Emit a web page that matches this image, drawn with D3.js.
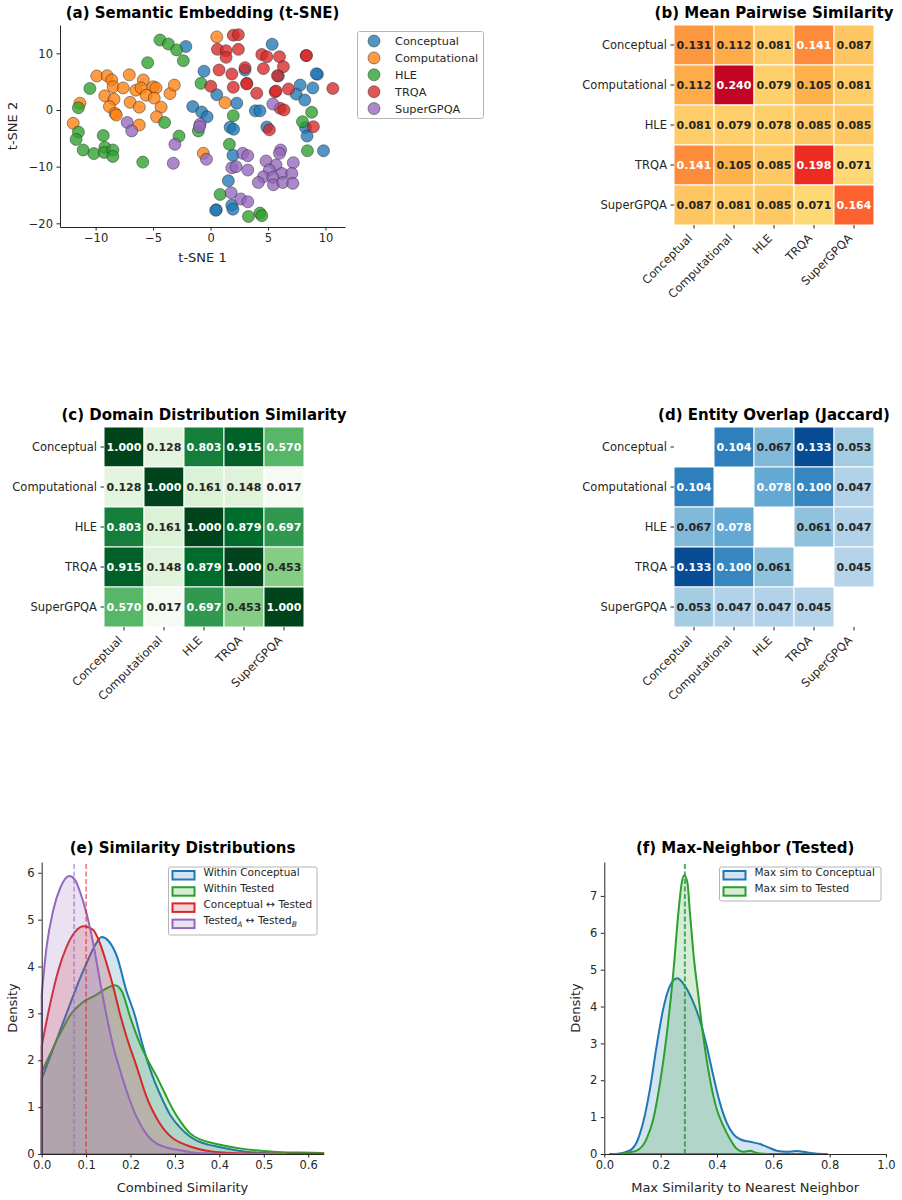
<!DOCTYPE html>
<html>
<head>
<meta charset="utf-8">
<title>Benchmark similarity analysis</title>
<style>
  body { margin: 0; background: #fff; }
  svg { font-family: "DejaVu Sans", sans-serif; }
</style>
</head>
<body>
<svg id="svg" width="902" height="1200"></svg>
<script src="https://d3js.org/d3.v7.min.js"></script>
<script>
  const groups = ["Conceptual", "Computational", "HLE", "TRQA", "SuperGPQA"]
  const groupColors = ["#1f77b4", "#ff7f0e", "#2ca02c", "#d62728", "#9467bd"]

  // t-SNE coordinates, one list per group
  const tsneConceptual = [[5.36,11.6],[-2.15,11.2],[-0.57,6.85],[3.0,7.05],[5.9,6.0],[9.3,6.3],[9.2,6.4],[7.8,4.4],[8.9,3.9],[7.45,2.8],[8.2,1.75],[0.54,2.7],[2.28,1.2],[-1.55,0.6],[-0.77,-0.35],[-0.3,-1.2],[3.9,-0.15],[4.3,-0.15],[1.7,-3.05],[2.0,-3.4],[4.9,-3.0],[8.26,-3.1],[8.4,-4.6],[9.83,-7.2],[1.95,-8.0],[1.55,-12.5],[1.85,-16.8],[1.95,-17.5],[0.5,-17.6],[0.45,-17.7]]
  const tsneComputational = [[0.54,12.9],[-9.9,6.0],[-9.0,6.05],[-8.6,5.3],[-8.47,4.1],[-7.6,3.9],[-7.07,6.2],[-5.85,5.3],[-6.5,3.5],[-6.05,3.9],[-4.98,4.1],[-4.75,3.9],[-5.6,2.6],[-4.9,2.1],[-3.53,2.9],[-3.15,4.4],[-9.2,2.5],[-8.4,1.9],[-7.0,1.35],[-6.2,0.5],[-8.8,0.6],[-8.3,-0.6],[-8.2,-0.9],[-4.3,0.5],[-4.7,-1.2],[-11.37,1.2],[-11.95,-2.35],[-6.2,-2.65],[1.26,1.3],[-0.63,-7.65]]
  const tsneHLE = [[-4.4,12.35],[-3.67,11.65],[-2.95,10.6],[-2.37,8.7],[-5.47,8.35],[-10.5,3.8],[-11.5,0.4],[-0.83,4.7],[-4.0,-2.2],[-11.5,-3.9],[-11.7,-5.2],[-11.08,-7.06],[-10.15,-7.7],[-9.34,-4.5],[-9.2,-6.6],[-9.25,-7.5],[-8.5,-7.06],[-8.5,-8.2],[-5.9,-9.2],[-2.74,-4.6],[-1.06,-3.7],[1.98,-1.0],[8.8,-0.4],[8.0,-2.06],[1.64,-6.05],[8.43,-7.2],[0.83,-14.9],[3.3,-18.8],[4.3,-18.2],[4.46,-18.65]]
  const tsneTRQA = [[1.98,13.2],[2.42,13.3],[0.6,10.7],[1.35,10.45],[1.35,9.3],[2.42,10.7],[0.74,7.06],[1.85,6.35],[3.0,7.47],[0.02,4.2],[1.98,4.0],[3.15,4.7],[3.15,4.6],[4.02,2.95],[4.46,9.8],[4.9,9.4],[4.6,7.3],[6.0,9.4],[6.34,7.65],[5.82,6.05],[5.62,3.2],[5.7,3.35],[6.78,3.7],[8.32,9.6],[8.35,9.6],[10.64,3.8],[6.05,0.3],[6.4,0.0],[5.12,-3.5],[8.95,-2.95]]
  const tsneSuperGPQA = [[5.42,1.06],[-7.25,-2.2],[-6.86,-3.7],[-0.91,-2.5],[-0.97,-2.95],[-3.1,-6.06],[-3.24,-9.4],[-0.36,-8.7],[2.8,-7.65],[3.24,-8.06],[6.1,-7.06],[6.0,-7.65],[1.85,-10.2],[2.22,-10.0],[3.24,-10.6],[4.83,-9.0],[5.7,-9.7],[7.2,-9.3],[5.12,-10.6],[6.2,-11.2],[7.07,-11.2],[4.6,-11.8],[5.42,-11.9],[4.16,-12.8],[5.47,-13.2],[6.29,-12.8],[7.16,-12.95],[1.79,-14.6],[2.63,-15.7],[3.24,-16.2]]
  const tsnePoints = [tsneConceptual, tsneComputational, tsneHLE, tsneTRQA, tsneSuperGPQA]

  // heatmap values
  const meanPairwise = [
    [0.131, 0.112, 0.081, 0.141, 0.087],
    [0.112, 0.240, 0.079, 0.105, 0.081],
    [0.081, 0.079, 0.078, 0.085, 0.085],
    [0.141, 0.105, 0.085, 0.198, 0.071],
    [0.087, 0.081, 0.085, 0.071, 0.164]
  ]
  const domainSimilarity = [
    [1.000, 0.128, 0.803, 0.915, 0.570],
    [0.128, 1.000, 0.161, 0.148, 0.017],
    [0.803, 0.161, 1.000, 0.879, 0.697],
    [0.915, 0.148, 0.879, 1.000, 0.453],
    [0.570, 0.017, 0.697, 0.453, 1.000]
  ]
  const entityJaccard = [
    [null, 0.104, 0.067, 0.133, 0.053],
    [0.104, null, 0.078, 0.100, 0.047],
    [0.067, 0.078, null, 0.061, 0.047],
    [0.133, 0.100, 0.061, null, 0.045],
    [0.053, 0.047, 0.047, 0.045, null]
  ]

  // density curves, [similarity, density]
  const kdeWithinConceptual = [[0,1.6],[0.02,2.1],[0.04,2.6],[0.06,3.1],[0.08,3.6],[0.1,4.05],[0.12,4.45],[0.135,4.63],[0.15,4.55],[0.17,4.2],[0.19,3.5],[0.21,2.95],[0.225,2.4],[0.25,1.65],[0.27,1.2],[0.29,0.82],[0.31,0.58],[0.33,0.4],[0.35,0.28],[0.375,0.2],[0.4,0.15],[0.43,0.09],[0.46,0.05],[0.5,0.02],[0.55,0.0]]
  const kdeWithinTested = [[0,1.75],[0.02,2.15],[0.034,2.43],[0.05,2.72],[0.064,2.96],[0.08,3.13],[0.094,3.25],[0.12,3.38],[0.14,3.5],[0.165,3.6],[0.18,3.48],[0.2,2.9],[0.221,2.36],[0.24,1.98],[0.259,1.65],[0.278,1.28],[0.296,0.94],[0.315,0.66],[0.334,0.44],[0.36,0.3],[0.386,0.23],[0.415,0.17],[0.446,0.12],[0.48,0.08],[0.521,0.05],[0.58,0.03],[0.634,0.02]]
  const kdeConceptualTested = [[0,2.3],[0.019,3.2],[0.0375,3.92],[0.056,4.42],[0.075,4.74],[0.095,4.86],[0.116,4.78],[0.131,4.5],[0.146,4.07],[0.161,3.57],[0.176,3.0],[0.191,2.5],[0.214,1.86],[0.236,1.22],[0.251,0.9],[0.266,0.65],[0.281,0.46],[0.296,0.33],[0.315,0.23],[0.334,0.16],[0.36,0.09],[0.386,0.05],[0.42,0.025],[0.46,0.012],[0.55,0.006],[0.634,0.004]]
  const kdeTestedPairs = [[0,3.4],[0.011,4.42],[0.026,5.2],[0.041,5.66],[0.062,5.93],[0.075,5.85],[0.086,5.6],[0.101,5.13],[0.116,4.49],[0.131,3.7],[0.146,2.95],[0.161,2.3],[0.176,1.8],[0.191,1.35],[0.214,0.78],[0.236,0.42],[0.259,0.22],[0.281,0.14],[0.31,0.08],[0.334,0.04],[0.37,0.015],[0.42,0.005],[0.55,0]]
  const meanConceptualTested = 0.100
  const meanTestedPairs = 0.073

  const kdeMaxToConceptual = [[0.02,0],[0.05,0.01],[0.079,0.06],[0.1,0.15],[0.115,0.32],[0.138,0.86],[0.162,1.76],[0.186,2.94],[0.209,3.93],[0.233,4.56],[0.259,4.77],[0.286,4.56],[0.316,4.11],[0.34,3.61],[0.363,2.94],[0.387,2.12],[0.41,1.4],[0.434,0.86],[0.458,0.54],[0.482,0.4],[0.517,0.33],[0.553,0.27],[0.582,0.18],[0.612,0.09],[0.647,0.06],[0.683,0.08],[0.718,0.045],[0.75,0.015],[0.79,0]]
  const kdeMaxToTested = [[0.03,0],[0.079,0.03],[0.115,0.09],[0.15,0.41],[0.174,0.95],[0.198,1.94],[0.221,3.2],[0.245,4.92],[0.263,6.55],[0.275,7.36],[0.284,7.56],[0.295,7.36],[0.304,6.55],[0.316,5.47],[0.334,4.29],[0.351,3.21],[0.375,2.03],[0.399,1.22],[0.422,0.77],[0.446,0.41],[0.47,0.14],[0.493,0.06],[0.517,0.09],[0.541,0.03],[0.58,0]]
  const meanMaxToConceptual = 0.287
  const meanMaxToTested = 0.285

  const svg = d3.select("#svg")
  const ink = "#262626"
  const tickFont = 11.5

  function styleAxis(g) {
    g.attr("font-family", null).attr("font-size", null)
    g.selectAll("text").attr("font-size", tickFont).attr("fill", ink)
    g.selectAll("line").attr("stroke", ink)
    g.select(".domain").attr("stroke", ink)
  }

  function title(x, y, txt) {
    svg.append("text").attr("x", x).attr("y", y).attr("text-anchor", "middle")
      .attr("font-size", 15).attr("font-weight", "bold").attr("fill", "#000").text(txt)
  }

  function axisLabel(x, y, txt, rotate) {
    const t = svg.append("text").attr("text-anchor", "middle").attr("font-size", 13).attr("fill", ink).text(txt)
    if (rotate) t.attr("transform", `translate(${x},${y}) rotate(-90)`)
    else t.attr("x", x).attr("y", y)
  }

  // ---------- (a) scatter ----------
  function drawScatter() {
    const left = 60, top = 25, w = 285, h = 202
    const x = d3.scaleLinear().domain([-13.1, 11.7]).range([left, left + w])
    const y = d3.scaleLinear().domain([-20.65, 15]).range([top + h, top])

    tsnePoints.forEach((pts, i) => {
      svg.append("g").selectAll("circle").data(pts).join("circle")
        .attr("cx", d => x(d[0])).attr("cy", d => y(d[1])).attr("r", 6)
        .attr("fill", groupColors[i]).attr("fill-opacity", 0.78)
        .attr("stroke", "#222").attr("stroke-opacity", 0.78).attr("stroke-width", 0.6)
    })

    svg.append("g").attr("transform", `translate(0,${top + h})`)
      .call(d3.axisBottom(x).tickValues([-10, -5, 0, 5, 10]).tickSize(3.5).tickPadding(3.5).tickSizeOuter(0))
      .call(styleAxis)
    svg.append("g").attr("transform", `translate(${left},0)`)
      .call(d3.axisLeft(y).tickValues([-20, -10, 0, 10]).tickSize(3.5).tickPadding(3.5).tickSizeOuter(0))
      .call(styleAxis)

    title(left + w / 2, 18, "(a) Semantic Embedding (t-SNE)")
    axisLabel(left + w / 2, 262, "t-SNE 1")
    axisLabel(17, top + h / 2, "t-SNE 2", true)

    const lg = svg.append("g")
    lg.append("rect").attr("x", 357.5).attr("y", 31.5).attr("width", 126).attr("height", 87).attr("rx", 2)
      .attr("fill", "#fff").attr("stroke", "#b5b5b5")
    groups.forEach((name, i) => {
      const cy = 41 + i * 16.9
      lg.append("circle").attr("cx", 374).attr("cy", cy).attr("r", 6)
        .attr("fill", groupColors[i]).attr("fill-opacity", 0.78)
        .attr("stroke", "#222").attr("stroke-opacity", 0.78).attr("stroke-width", 0.6)
      lg.append("text").attr("x", 395).attr("y", cy).attr("dy", "0.35em").attr("font-size", 11.3).attr("fill", ink).text(name)
    })
  }

  // ---------- heatmaps ----------
  function brewer(scheme, vmin, vmax) {
    const cols = scheme[9]
    return d3.scaleLinear().domain(cols.map((c, i) => vmin + (vmax - vmin) * i / 8)).range(cols).clamp(true)
  }
  function luminance(c) {
    const { r, g, b } = d3.rgb(c)
    const f = v => { v /= 255; return v <= 0.03928 ? v / 12.92 : Math.pow((v + 0.055) / 1.055, 2.4) }
    return 0.2126 * f(r) + 0.7152 * f(g) + 0.0722 * f(b)
  }

  function drawHeatmap(x0, y0, matrix, color, txt) {
    const size = 200
    const x = d3.scaleBand().domain(groups).range([x0, x0 + size])
    const y = d3.scaleBand().domain(groups).range([y0, y0 + size])
    const cells = []
    matrix.forEach((row, i) => row.forEach((v, j) => { if (v !== null) cells.push({ r: groups[i], c: groups[j], v }) }))

    const g = svg.append("g")
    g.selectAll("rect").data(cells).join("rect")
      .attr("x", d => x(d.c)).attr("y", d => y(d.r))
      .attr("width", x.bandwidth()).attr("height", y.bandwidth())
      .attr("fill", d => color(d.v)).attr("stroke", "#fff").attr("stroke-width", 1)
    g.selectAll("text").data(cells).join("text")
      .attr("x", d => x(d.c) + x.bandwidth() / 2).attr("y", d => y(d.r) + y.bandwidth() / 2)
      .attr("dy", "0.36em").attr("text-anchor", "middle")
      .attr("font-size", 11).attr("font-weight", "bold")
      .attr("fill", d => luminance(color(d.v)) > 0.408 ? ink : "#fff")
      .text(d => d.v.toFixed(3))

    svg.append("g").attr("transform", `translate(0,${y0 + size})`)
      .call(d3.axisBottom(x).tickSize(3.5).tickSizeOuter(0))
      .call(styleAxis)
      .call(a => a.select(".domain").remove())
      .call(a => a.selectAll("text").attr("x", 0).attr("y", 0).attr("dy", 0)
        .attr("text-anchor", "end").attr("transform", "translate(-1,14) rotate(-45)"))
    svg.append("g").attr("transform", `translate(${x0},0)`)
      .call(d3.axisLeft(y).tickSize(3.5).tickPadding(3.5).tickSizeOuter(0))
      .call(styleAxis)
      .call(a => a.select(".domain").remove())

    title(x0 + size / 2, y0 - 7, txt)
  }

  // ---------- density panels ----------
  function drawKde(opt) {
    const { left, top, w, h } = opt
    const x = d3.scaleLinear().domain([0, opt.xMax]).range([left, left + w])
    const y = d3.scaleLinear().domain([0, opt.yMax]).range([top + h, top])
    const area = d3.area().x(d => x(d[0])).y0(y(0)).y1(d => y(d[1])).curve(d3.curveMonotoneX)

    opt.series.forEach(s => {
      svg.append("path").attr("d", area(s.data))
        .attr("fill", s.color).attr("fill-opacity", 0.2)
        .attr("stroke", s.color).attr("stroke-width", 2).attr("stroke-linejoin", "round")
    })
    opt.means.forEach(m => {
      svg.append("line").attr("x1", x(m.v)).attr("x2", x(m.v)).attr("y1", y(0)).attr("y2", top)
        .attr("stroke", m.color).attr("stroke-opacity", 0.65).attr("stroke-width", 1.5).attr("stroke-dasharray", "5,2.5")
    })

    svg.append("g").attr("transform", `translate(0,${top + h})`)
      .call(d3.axisBottom(x).tickValues(opt.xTicks).tickFormat(d3.format(".1f")).tickSize(3.5).tickPadding(3.5).tickSizeOuter(0))
      .call(styleAxis)
    svg.append("g").attr("transform", `translate(${left},0)`)
      .call(d3.axisLeft(y).tickValues(opt.yTicks).tickFormat(d3.format("d")).tickSize(3.5).tickPadding(3.5).tickSizeOuter(0))
      .call(styleAxis)

    title(left + w / 2, 853, opt.title)
    axisLabel(left + w / 2, 1192, opt.xLabel)
    axisLabel(left - 24.5, top + h / 2, "Density", true)

    const lg = svg.append("g")
    const L = opt.legend
    lg.append("rect").attr("x", L.x).attr("y", L.y).attr("width", L.w).attr("height", L.h).attr("rx", 2)
      .attr("fill", "#fff").attr("fill-opacity", 0.85).attr("stroke", "#b5b5b5")
    opt.series.forEach((s, i) => {
      const cy = L.y + 8.5 + i * 16.2
      lg.append("rect").attr("x", L.x + 4).attr("y", cy - 4.5).attr("width", 22).attr("height", 8.5)
        .attr("fill", s.color).attr("fill-opacity", 0.2).attr("stroke", s.color).attr("stroke-width", 2)
      const t = lg.append("text").attr("x", L.x + 35).attr("y", cy).attr("dy", "0.36em")
        .attr("font-size", 10.5).attr("fill", ink)
      s.label.forEach(part => {
        if (part.sub) t.append("tspan").attr("font-size", 7.5).attr("font-style", "italic").attr("dy", 2.5).text(part.sub)
        else t.append("tspan").attr("dy", part.reset ? -2.5 : 0).text(part.text)
      })
    })
  }

  drawScatter()
  drawHeatmap(674, 25, meanPairwise, brewer(d3.schemeYlOrRd, 0, 0.28), "(b) Mean Pairwise Similarity")
  drawHeatmap(104, 427, domainSimilarity, brewer(d3.schemeGreens, 0, 1), "(c) Domain Distribution Similarity")
  drawHeatmap(674, 427, entityJaccard, brewer(d3.schemeBlues, 0, 0.149), "(d) Entity Overlap (Jaccard)")

  drawKde({
    left: 41.7, top: 862, w: 281.6, h: 292,
    xMax: 0.634, yMax: 6.23,
    xTicks: [0, 0.1, 0.2, 0.3, 0.4, 0.5, 0.6], yTicks: [0, 1, 2, 3, 4, 5, 6],
    series: [
      { data: kdeWithinConceptual, color: groupColors[0], label: [{ text: "Within Conceptual" }] },
      { data: kdeWithinTested, color: groupColors[2], label: [{ text: "Within Tested" }] },
      { data: kdeConceptualTested, color: groupColors[3], label: [{ text: "Conceptual \u2194 Tested" }] },
      { data: kdeTestedPairs, color: groupColors[4], label: [{ text: "Tested" }, { sub: "A" }, { text: " \u2194 Tested", reset: true }, { sub: "B" }] }
    ],
    means: [{ v: meanTestedPairs, color: groupColors[4] }, { v: meanConceptualTested, color: groupColors[3] }],
    title: "(e) Similarity Distributions", xLabel: "Combined Similarity",
    legend: { x: 168.5, y: 867, w: 148.5, h: 68 }
  })

  drawKde({
    left: 604.3, top: 862, w: 281.7, h: 292,
    xMax: 1, yMax: 7.92,
    xTicks: [0, 0.2, 0.4, 0.6, 0.8, 1.0], yTicks: [0, 1, 2, 3, 4, 5, 6, 7],
    series: [
      { data: kdeMaxToConceptual, color: groupColors[0], label: [{ text: "Max sim to Conceptual" }] },
      { data: kdeMaxToTested, color: groupColors[2], label: [{ text: "Max sim to Tested" }] }
    ],
    means: [{ v: meanMaxToConceptual, color: groupColors[0] }, { v: meanMaxToTested, color: groupColors[2] }],
    title: "(f) Max-Neighbor (Tested)", xLabel: "Max Similarity to Nearest Neighbor",
    legend: { x: 719.5, y: 867, w: 161.5, h: 34 }
  })
</script>
</body>
</html>
